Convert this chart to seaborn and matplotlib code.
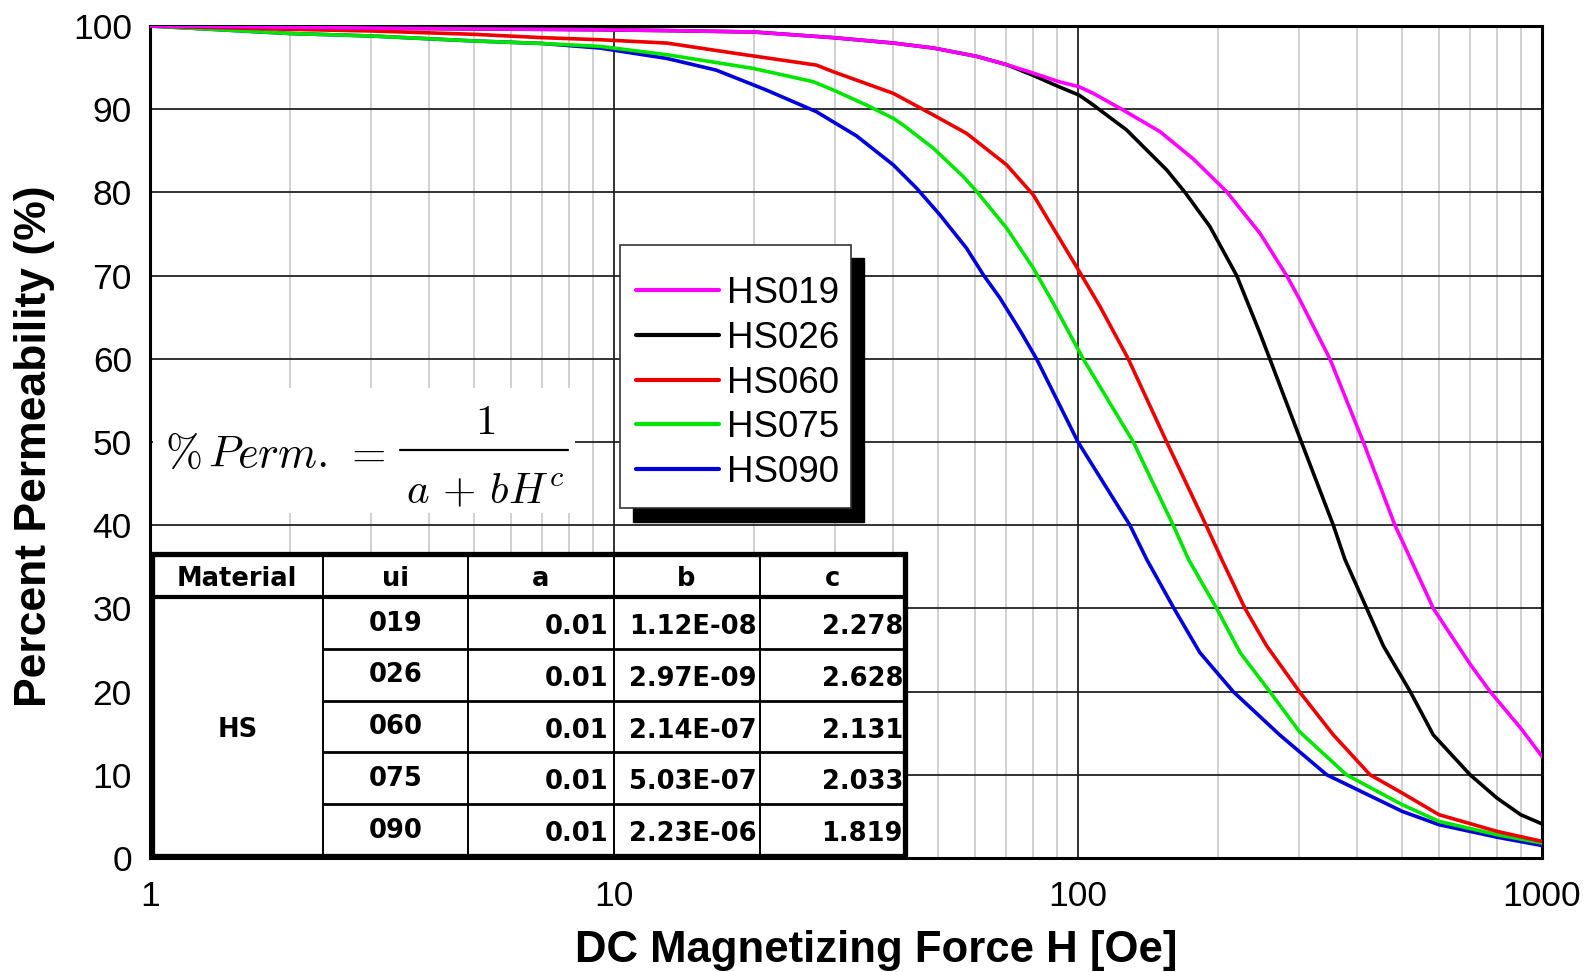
import matplotlib
matplotlib.use('Agg')
import matplotlib.pyplot as plt
import seaborn as sns
import pandas as pd
from matplotlib.patches import Rectangle
from matplotlib.lines import Line2D
from matplotlib.ticker import FixedLocator, FixedFormatter, MultipleLocator, LogLocator, NullFormatter

# figure size in pixels
W, H = 1588, 972

materials = ['HS019', 'HS026', 'HS060', 'HS075', 'HS090']
colors = ['#ff00ff', '#000000', '#ee0000', '#00e600', '#0000dd']

# curves: H [Oe] and % permeability
hs019_h = [1, 2, 3, 5, 7, 9.3, 13, 20, 29.7, 40, 48.8, 60.5, 70.2, 80.1, 90.7, 100.5, 107.9, 124.2,
           150.2, 177.4, 209, 246.6, 281.6, 300, 349, 412, 482, 569, 583, 700, 773, 900, 1000]
hs019_p = [100, 99.85, 99.75, 99.65, 99.6, 99.55, 99.45, 99.28, 98.6, 97.95, 97.35, 96.35, 95.35, 94.34,
           93.33, 92.7, 91.9, 90.0, 87.3, 84.0, 80.1, 75.1, 70.0, 67.2, 60.0, 50.0, 40.0, 31.3, 30.0,
           23.3, 20.0, 15.6, 12.2]

hs026_h = [1, 2, 3, 5, 7, 9.3, 13, 20, 29.7, 40, 48.8, 60.5, 70.2, 80.1, 90.7, 100.5, 107.9, 127.3,
           155.3, 170.1, 192.4, 219.8, 246.6, 259, 303, 355, 376, 419, 455, 520, 583, 700, 800, 900, 1000]
hs026_p = [100, 99.85, 99.75, 99.65, 99.6, 99.55, 99.45, 99.28, 98.6, 97.95, 97.35, 96.35, 95.35, 94.06,
           92.73, 91.7, 90.5, 87.5, 82.7, 80.0, 75.9, 70.0, 63.1, 60.0, 50.0, 40.0, 35.9, 30.0, 25.5,
           20.0, 14.8, 10.0, 7.2, 5.2, 4.1]

hs060_h = [1, 2, 3, 5, 7, 9.33, 13, 18.07, 27.3, 29.7, 40, 48.8, 57.5, 70.2, 80.1, 100.9, 111.5, 128.3,
           155.3, 188.8, 204, 229, 255, 300, 355, 426, 500, 600, 800, 1000]
hs060_p = [100, 99.6, 99.4, 99.0, 98.6, 98.35, 97.95, 96.75, 95.3, 94.5, 91.9, 89.3, 87.1, 83.3, 79.7,
           70.4, 66.3, 60.0, 50.0, 40.0, 35.9, 30.0, 25.5, 20.0, 14.8, 10.0, 7.8, 5.2, 3.2, 2.0]

hs075_h = [1, 2, 3, 5, 7, 9.33, 13, 19.96, 26.9, 29.7, 35, 40, 42, 48.8, 56.6, 60.5, 70.2, 80.1, 87.8,
           102.6, 131.6, 160.4, 173, 199, 223.5, 259, 300, 379, 500, 600, 800, 1000]
hs075_p = [100, 99.1, 98.8, 98.2, 97.9, 97.55, 96.55, 94.9, 93.3, 92.3, 90.5, 88.9, 88.1, 85.3, 81.9,
           80.1, 75.7, 70.9, 67.0, 60.0, 50.0, 40.0, 35.9, 30.0, 24.7, 20.0, 15.2, 10.0, 6.4, 4.4, 2.8, 1.8]

hs090_h = [1, 2, 3, 5, 7, 9.33, 13, 16.6, 21.3, 27.3, 33.3, 40, 44.9, 50.4, 57.5, 62.5, 67.9, 75.2,
           81.4, 100, 129.4, 140.6, 161, 183, 216, 272, 343.6, 500, 600, 800, 1000]
hs090_p = [100, 99.1, 98.8, 98.2, 97.9, 97.35, 96.1, 94.7, 92.3, 89.7, 86.8, 83.3, 80.5, 77.3, 73.3,
           70.1, 67.3, 63.3, 60.0, 50.0, 40.0, 35.9, 30.0, 24.7, 20.0, 14.8, 10.0, 5.6, 4.0, 2.5, 1.5]

x_ticks = [1, 10, 100, 1000]
x_ticklabels = ['1', '10', '100', '1000']

# fit-parameter table
tbl_header = ['Material', 'ui', 'a', 'b', 'c']
tbl_group = 'HS'
tbl_ui = ['019', '026', '060', '075', '090']
tbl_a = ['0.01', '0.01', '0.01', '0.01', '0.01']
tbl_b = ['1.12E-08', '2.97E-09', '2.14E-07', '5.03E-07', '2.23E-06']
tbl_c = ['2.278', '2.628', '2.131', '2.033', '1.819']

# formula pieces
f_left = r'$\%\,Perm.\,=$'
f_num = r'$1$'
f_den = r'$a\,+\,bH^c$'

sns.set_style('white')
plt.rcParams['font.family'] = ['Liberation Sans', 'DejaVu Sans']
plt.rcParams['mathtext.fontset'] = 'cm'
for k in ['text.color', 'axes.labelcolor', 'xtick.color', 'ytick.color']:
    plt.rcParams[k] = 'black'


def fx(x):
    return x / W


def fy(y):
    return 1 - y / H


frames = []
for name, hv, pv in zip(materials,
                        [hs019_h, hs026_h, hs060_h, hs075_h, hs090_h],
                        [hs019_p, hs026_p, hs060_p, hs075_p, hs090_p]):
    frames.append(pd.DataFrame({'Material': name, 'H': hv, 'Perm': pv}))
df = pd.concat(frames, ignore_index=True)

fig = plt.figure(figsize=(W / 100, H / 100), dpi=100)
ax = fig.add_axes([fx(150), fy(858), (1542 - 150) / W, (858 - 26) / H])

sns.lineplot(data=df, x='H', y='Perm', hue='Material', hue_order=materials[::-1],
             palette=dict(zip(materials, colors)), estimator=None, linewidth=2.6,
             legend=False, ax=ax, zorder=3)

ax.set_xscale('log')
ax.set_xlim(1, 1000)
ax.set_ylim(0, 100)
ax.set_xlabel('')
ax.set_ylabel('')

ax.xaxis.set_major_locator(FixedLocator(x_ticks))
ax.xaxis.set_major_formatter(FixedFormatter(x_ticklabels))
ax.xaxis.set_minor_locator(LogLocator(base=10, subs=[2, 3, 4, 5, 6, 7, 8, 9]))
ax.xaxis.set_minor_formatter(NullFormatter())
ax.yaxis.set_major_locator(MultipleLocator(10))
ax.yaxis.set_minor_locator(MultipleLocator(5))

ax.grid(which='major', axis='both', color='#222222', linewidth=1.3)
ax.grid(which='minor', axis='x', color='#c4c4c4', linewidth=1.1)
ax.set_axisbelow(True)

ax.tick_params(which='both', direction='in', color='black', width=2, labelsize=25.5)
ax.tick_params(which='major', length=12)
ax.tick_params(which='minor', length=7)
ax.tick_params(axis='y', pad=13)
ax.tick_params(axis='x', pad=16)
for sp in ax.spines.values():
    sp.set_visible(True)
    sp.set_color('black')
    sp.set_linewidth(2.2)

# white box with the fit formula
ax.add_patch(Rectangle((0.002, 0.415), 0.303, 0.15, transform=ax.transAxes,
                       facecolor='white', edgecolor='none', zorder=1.5))
ax.text(fx(165), fy(467), f_left, transform=fig.transFigure, ha='left', va='baseline',
        fontsize=32, zorder=4)
ax.add_line(Line2D([fx(400), fx(568)], [fy(450), fy(450)], transform=fig.transFigure,
                   color='black', linewidth=1.6, zorder=4, clip_on=False))
ax.text(fx(485), fy(434), f_num, transform=fig.transFigure, ha='center', va='baseline',
        fontsize=31, zorder=4)
ax.text(fx(485), fy(503), f_den, transform=fig.transFigure, ha='center', va='baseline',
        fontsize=31, zorder=4)

# legend box with hard black shadow
ax.add_patch(Rectangle((fx(633), fy(521.5)), (851 - 620) / W, (508 - 245) / H,
                       transform=fig.transFigure, facecolor='black', edgecolor='black',
                       zorder=5, clip_on=False))
ax.add_patch(Rectangle((fx(620), fy(508)), (851 - 620) / W, (508 - 245) / H,
                       transform=fig.transFigure, facecolor='white', edgecolor='#333333',
                       linewidth=1.2, zorder=5.1, clip_on=False))
handles = [Line2D([], [], color=c, linewidth=3) for c in colors]
leg = ax.legend(handles, materials, loc='center left', bbox_to_anchor=(fx(636), fy(383)),
                bbox_transform=fig.transFigure, fontsize=26.5, frameon=False,
                borderaxespad=0, borderpad=0, labelspacing=0.26, handlelength=2.25,
                handletextpad=0.22)
leg.set_zorder(6)

# axis titles
fig.text(fx(876), fy(950), 'DC Magnetizing Force H [Oe]', ha='center', va='center',
         fontsize=31.5, fontweight='bold')
fig.text(fx(35), fy(446), 'Percent Permeability (%)', ha='center', va='center',
         rotation=90, fontsize=32, fontweight='bold')

# parameter table drawn over the lower left of the plot
tx = [152, 322.5, 468, 613.5, 759.5, 905]
ty = [554, 597, 649, 700.7, 752.3, 804, 856]
fig.add_artist(Rectangle((fx(tx[0]), fy(ty[-1])), (tx[-1] - tx[0]) / W, (ty[-1] - ty[0]) / H,
                         transform=fig.transFigure, facecolor='white', edgecolor='black',
                         linewidth=3.8, joinstyle='miter', zorder=4))
fig.add_artist(Line2D([fx(tx[0]), fx(tx[-1])], [fy(ty[1]), fy(ty[1])], transform=fig.transFigure,
                      color='black', linewidth=3.0, zorder=5))
for yy in ty[2:-1]:
    fig.add_artist(Line2D([fx(tx[1]), fx(tx[-1])], [fy(yy), fy(yy)], transform=fig.transFigure,
                          color='black', linewidth=2.0, zorder=5))
for xx in tx[1:-1]:
    fig.add_artist(Line2D([fx(xx), fx(xx)], [fy(ty[0]), fy(ty[-1])], transform=fig.transFigure,
                          color='black', linewidth=1.4, zorder=5))

tfont = dict(fontsize=18.5, fontweight='bold', family='DejaVu Sans', zorder=6)
hdr_base = (ty[0] + ty[1]) / 2 + 10
for i, lab in enumerate(tbl_header):
    fig.text(fx((tx[i] + tx[i + 1]) / 2), fy(hdr_base), lab, ha='center', va='baseline', **tfont)
fig.text(fx((tx[0] + tx[1]) / 2), fy((ty[1] + ty[-1]) / 2 + 10.5), tbl_group,
         ha='center', va='baseline', **tfont)
for r in range(len(tbl_ui)):
    mid = (ty[r + 1] + ty[r + 2]) / 2
    fig.text(fx((tx[1] + tx[2]) / 2), fy(mid + 7.5), tbl_ui[r], ha='center', va='baseline', **tfont)
    fig.text(fx(tx[3] - 5), fy(mid + 11), tbl_a[r], ha='right', va='baseline', **tfont)
    fig.text(fx(tx[4] - 3), fy(mid + 11), tbl_b[r], ha='right', va='baseline', **tfont)
    fig.text(fx(tx[5] - 2), fy(mid + 11), tbl_c[r], ha='right', va='baseline', **tfont)

fig.savefig('out.png', dpi=100)
